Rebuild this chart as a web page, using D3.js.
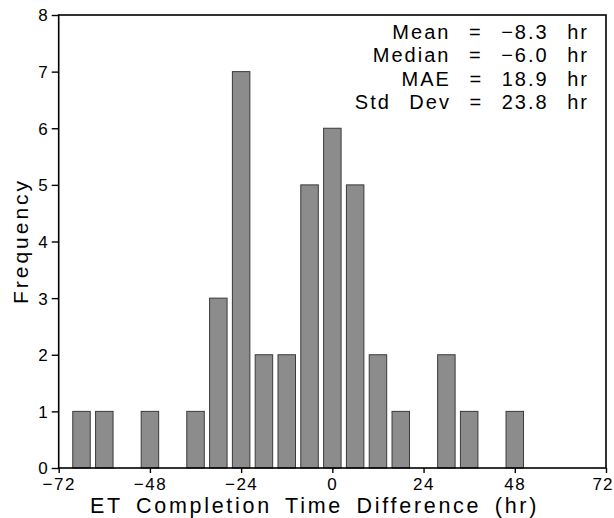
<!DOCTYPE html>
<html><head><meta charset="utf-8">
<script src="https://cdn.jsdelivr.net/npm/d3@7"></script>
<style>
body{margin:0;background:#fff;}
svg text{font-family:"Liberation Sans",Arial,sans-serif;fill:#000;}
</style></head>
<body><svg id="c" width="614" height="518"></svg>
<script>
const binCenters = [-66,-60,-48,-36,-30,-24,-18,-12,-6,0,6,12,18,30,36,48];
const counts     = [1,1,1,1,3,7,2,2,5,6,5,2,1,2,1,1];
const xTicks = [-72,-48,-24,0,24,48,72];
const yTicks = [0,1,2,3,4,5,6,7,8];
const statLines = ["Mean = \u22128.3 hr","Median = \u22126.0 hr","MAE = 18.9 hr","Std Dev = 23.8 hr"];
const xTitle = "ET Completion Time Difference (hr)";
const yTitle = "Frequency";
const barHalfWidth = 2.3;

const svg = d3.select("#c");
const m = {l:58.7, r:606, t:15, b:468};
const x = d3.scaleLinear().domain([-72,72]).range([m.l,m.r]);
const y = d3.scaleLinear().domain([0,8]).range([m.b,m.t]);
const data = binCenters.map((c,i)=>({c, n:counts[i]}));

svg.append("g").selectAll("rect").data(data).join("rect")
  .attr("x", d=>x(d.c-barHalfWidth))
  .attr("width", d=>x(d.c+barHalfWidth)-x(d.c-barHalfWidth))
  .attr("y", d=>y(d.n))
  .attr("height", d=>y(0)-y(d.n))
  .attr("fill","#8c8c8c").attr("stroke","#3a3a3a").attr("stroke-width",1);

// frame
svg.append("rect").attr("x",m.l).attr("y",m.t).attr("width",m.r-m.l).attr("height",m.b-m.t)
  .attr("fill","none").attr("stroke","#000").attr("stroke-width",1.6);

const fmt = v => v<0 ? "\u2212"+Math.abs(v) : String(v);
const xa = svg.append("g").attr("transform",`translate(0,${m.b})`)
  .call(d3.axisBottom(x).tickValues(xTicks).tickSize(5).tickPadding(2).tickFormat(fmt));
const ya = svg.append("g").attr("transform",`translate(${m.l},0)`)
  .call(d3.axisLeft(y).tickValues(yTicks).tickSize(7).tickPadding(4).tickFormat(fmt));
[xa,ya].forEach(a=>{
  a.select(".domain").remove();
  a.selectAll(".tick line").attr("stroke","#000").attr("stroke-width",1.4);
  a.selectAll("text").attr("font-size",17).style("font-family","Liberation Sans").attr("fill","#000");
});
xa.selectAll("text").attr("letter-spacing",1.5).attr("dy","0.9em");
// keep the last label inside the picture (it touches the right edge in the reference)
xa.selectAll(".tick").filter(d=>d===72).select("text")
  .attr("text-anchor","end").attr("letter-spacing",1).attr("x",7);
ya.selectAll("text").attr("dy","0.35em");

// stats
svg.append("g").selectAll("text").data(statLines).join("text")
  .attr("x",589).attr("y",(d,i)=>39+i*23.3)
  .attr("text-anchor","end").attr("font-size",20)
  .attr("letter-spacing",2).attr("word-spacing",11)
  .text(d=>d);

svg.append("text").attr("x",314.5).attr("y",513).attr("text-anchor","middle")
  .attr("font-size",21.5).attr("letter-spacing",2.7).attr("word-spacing",5).text(xTitle);
svg.append("text").attr("transform","translate(28,241) rotate(-90)").attr("text-anchor","middle")
  .attr("font-size",21).attr("letter-spacing",3).text(yTitle);
</script></body></html>
